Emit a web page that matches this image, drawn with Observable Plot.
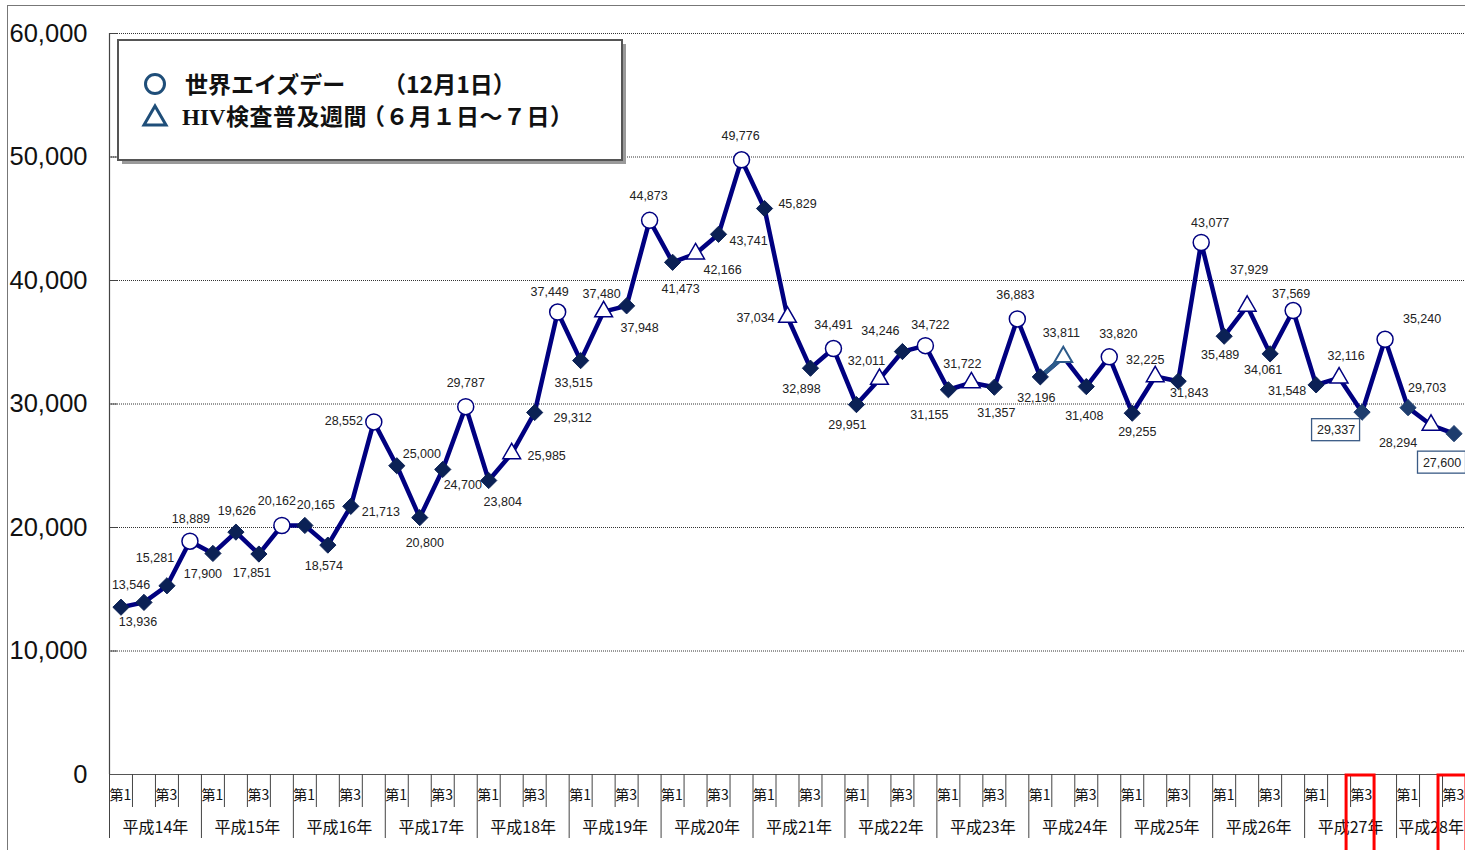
<!DOCTYPE html>
<html>
<head>
<meta charset="utf-8">
<script src="https://cdn.jsdelivr.net/npm/d3@7"></script>
<script src="https://cdn.jsdelivr.net/npm/@observablehq/plot@0.6"></script>
<style>
  html, body { margin: 0; padding: 0; background: #fff; overflow: hidden; }
  #wrap { position: relative; width: 1465px; height: 850px; }
  #wrap svg.plot { position: absolute; left: 0; top: 0; }
  #frame { position: absolute; left: 7px; top: 5px; width: 1470px; height: 860px;
           border-top: 1.5px solid #777; border-left: 1.5px solid #777; pointer-events: none; }
  #legend { position: absolute; left: 0; top: 0; pointer-events: none; }
</style>
</head>
<body>
<div id="wrap">
  <div id="frame"></div>
</div>
<script>
// ---------- data ----------
const years = ["平成14年","平成15年","平成16年","平成17年","平成18年","平成19年","平成20年",
               "平成21年","平成22年","平成23年","平成24年","平成25年","平成26年","平成27年","平成28年"];
const quarterNames = ["第1","第2","第3","第4"];
const shownQuarters = ["第1","第3"];
const values = [
  13546,13936,15281,18889,
  17900,19626,17851,20162,
  20165,18574,21713,28552,
  25000,20800,24700,29787,
  23804,25985,29312,37449,
  33515,37480,37948,44873,
  41473,42166,43741,49776,
  45829,37034,32898,34491,
  29951,32011,34246,34722,
  31155,31722,31357,36883,
  32196,33811,31408,33820,
  29255,32225,31843,43077,
  35489,37929,34061,37569,
  31548,32116,29337,35240,
  29703,28294,27600
];
// D = 世界エイズデー (12月1日), W = HIV検査普及週間 (6月1日～7日)
const eventType = [
  "","","","D",  "","","","D",  "","","","D",  "","","","D",
  "","W","","D", "","W","","D", "","W","","D", "","W","","D",
  "","W","","D", "","W","","D", "","W","","D", "","W","","D",
  "","W","","D", "","W","","D", "","W",""
];
const yTicks = [0,10000,20000,30000,40000,50000,60000];
const boxedLabels = [54, 58];
const highlightedQuarters = [54, 58];

// ---------- layout (label offsets in px, relative to each point) ----------
const labelOffsets = [
  [10,-22],[-6,20],[-12,-28],[1,-22],
  [-10,21],[1,-21],[-7,19],[-5,-24],
  [11,-20],[-4,21],[30,6],[-30,-1],
  [25,-12],[5,25],[20,16],[0,-24],
  [14,21],[35,2],[38,6],[-8,-20],
  [-7,22],[-2,-18],[13,22],[-1,-24],
  [8,27],[27,16],[30,7],[-1,-24],
  [33,-5],[-32,1],[-9,21],[0,-24],
  [-9,20],[-13,-18],[-22,-21],[5,-21],
  [-19,25],[-9,-19],[2,26],[-2,-24],
  [-4,21],[-2,-24],[-2,29],[9,-23],
  [5,19],[-10,-17],[11,12],[9,-19],
  [-4,19],[2,-36],[-7,16],[-2,-17],
  [-29,6],[7,-22],[-26,18],[37,-20],
  [19,-20],[-33,18],[-12,29]
];

const N = values.length;
const fmt = d3.format(",");
const pts = values.map((v, i) => ({i, x: i + 0.5, v, kind: eventType[i], label: fmt(v)}));

const quarterCells = d3.range(N).map(i => ({i, q: quarterNames[i % 4]}))
  .filter(d => shownQuarters.includes(d.q));
const yearCells = years.map((y, j) => ({y, c: (j * 4 + Math.min(N, j * 4 + 4)) / 2}));
const yearBounds = d3.range(0, N + 1, 4);
const quarterBounds = d3.range(1, N).filter(i => i % 4 !== 0);

const NUM = "'Liberation Sans', Arial, sans-serif";
const JP = "'Noto Sans CJK JP', sans-serif";
const NAVY = "#000080";
const DIA = "#0b2155";
const DIA2 = "#1e3d6e";
const STEEL = "#2d5b8a";

const labelMarks = pts.map(p => Plot.text([p], {
  x: "x", y: "v", text: "label",
  dx: labelOffsets[p.i][0], dy: labelOffsets[p.i][1],
  fontSize: 12.5, fontFamily: NUM, fill: "#222"
}));
const boxMarks = boxedLabels.map(i => {
  const [dx, dy] = labelOffsets[i];
  const w = 48, h = 22;
  return Plot.rect([pts[i]], {
    x1: "x", x2: "x", y1: "v", y2: "v",
    insetLeft: dx - w / 2, insetRight: -(dx + w / 2),
    insetTop: dy - h / 2, insetBottom: -(dy + h / 2),
    fill: "white", stroke: "#3a5a85", strokeWidth: 1.3
  });
});

const chart = Plot.plot({
  width: 1465, height: 850,
  marginLeft: 109, marginRight: 0, marginTop: 33, marginBottom: 76,
  x: {domain: [0, N], axis: null},
  y: {domain: [0, 60000], axis: null},
  style: {background: "transparent", overflow: "visible"},
  marks: [
    Plot.gridY(yTicks.slice(1), {stroke: "#333", strokeOpacity: 1, strokeDasharray: "1,1", strokeWidth: 1}),
    Plot.ruleY(yTicks, {x1: 0, x2: 0.35, stroke: "#444"}),
    Plot.ruleY([0], {stroke: "#555", strokeWidth: 1.2}),
    Plot.ruleX([0], {stroke: "#444", strokeWidth: 1.2}),
    Plot.axisY(yTicks, {tickSize: 0, tickPadding: 22, fontSize: 25.5, fontFamily: NUM, tickFormat: d => fmt(d), fill: "#111", label: null}),
    // category axis cells
    Plot.ruleX(quarterBounds, {x: d => d, y1: 0, y2: 0, insetBottom: -33, stroke: "#444"}),
    Plot.ruleX(yearBounds, {x: d => d, y1: 0, y2: 0, insetBottom: -64, stroke: "#444"}),
    Plot.text(quarterCells, {x: "i", y: 0, text: "q", dy: 21, textAnchor: "start", fontSize: 14, fontFamily: JP, fill: "#111"}),
    Plot.text(yearCells, {x: "c", y: 0, text: "y", dy: 53, fontSize: 16, fontFamily: JP, fill: "#111"}),
    Plot.rect(highlightedQuarters, {x1: d => d, x2: d => d + 1, y1: 0, y2: 0, insetLeft: -4, insetRight: -1, insetTop: 1, insetBottom: -80, fill: "none", stroke: "#ff0000", strokeWidth: 3}),
    // series
    Plot.line(pts, {x: "x", y: "v", stroke: NAVY, strokeWidth: 4.5}),
    Plot.link([pts[41]], {x1: "x", y1: "v", x2: d => pts[d.i - 1].x, y2: d => pts[d.i - 1].v, stroke: STEEL, strokeWidth: 4.5}),
    Plot.dot(pts.filter(d => d.kind === "" && d.i < 54), {x: "x", y: "v", symbol: "diamond2", r: 7.3, fill: DIA, stroke: DIA, strokeWidth: 1}),
    Plot.dot(pts.filter(d => d.kind === "" && d.i >= 54), {x: "x", y: "v", symbol: "diamond2", r: 7.3, fill: DIA2, stroke: DIA2, strokeWidth: 1}),
    Plot.dot(pts.filter(d => d.kind === "D"), {x: "x", y: "v", r: 8, fill: "white", stroke: NAVY, strokeWidth: 1.5}),
    Plot.dot(pts.filter(d => d.kind === "W" && d.i !== 41), {x: "x", y: "v", symbol: "triangle", r: 6.6, fill: "white", stroke: NAVY, strokeWidth: 1.5}),
    Plot.dot(pts.filter(d => d.kind === "W" && d.i === 41), {x: "x", y: "v", symbol: "triangle", r: 6.6, fill: "white", stroke: STEEL, strokeWidth: 2}),
    ...boxMarks,
    ...labelMarks
  ]
});
chart.classList.add("plot");
const wrap = document.getElementById("wrap");
wrap.insertBefore(chart, wrap.firstChild);

// ---------- legend (overlay inside the plot area) ----------
const legendItems = [
  {symbol: "circle", parts: [{t: "世界エイズデー", x: 185}, {t: "（12月1日）", x: 383}], y: 85},
  {symbol: "triangle", parts: [{t: "HIV", x: 182, serif: true}, {t: "検査普及週間", x: 226, ls: 0.5}, {t: "（６月１日～７日）", x: 362, ls: 0.5}], y: 117}
];
const lg = d3.select(wrap).append("svg").attr("id", "legend").attr("width", 1465).attr("height", 850);
lg.append("rect").attr("x", 122).attr("y", 44).attr("width", 504).attr("height", 120).attr("fill", "#9a9a9a");
lg.append("rect").attr("x", 118).attr("y", 40).attr("width", 504).attr("height", 120)
  .attr("fill", "white").attr("stroke", "#555").attr("stroke-width", 2);
legendItems.forEach(it => {
  if (it.symbol === "circle") {
    lg.append("circle").attr("cx", 155).attr("cy", it.y - 1).attr("r", 9.5)
      .attr("fill", "none").attr("stroke", "#1f4e79").attr("stroke-width", 3);
  } else {
    lg.append("path").attr("d", `M155,${it.y - 11} L166,${it.y + 8} L144,${it.y + 8} Z`)
      .attr("fill", "none").attr("stroke", "#1f4e79").attr("stroke-width", 3).attr("stroke-linejoin", "miter");
  }
  it.parts.forEach(p => {
    lg.append("text").attr("x", p.x).attr("y", it.y).attr("dy", "0.36em")
      .attr("font-family", p.serif ? "'Liberation Serif', 'DejaVu Serif', serif" : JP)
      .attr("letter-spacing", p.ls || 0)
      .attr("font-weight", "bold").attr("font-size", 23).attr("fill", "#111").text(p.t);
  });
});
</script>
</body>
</html>
